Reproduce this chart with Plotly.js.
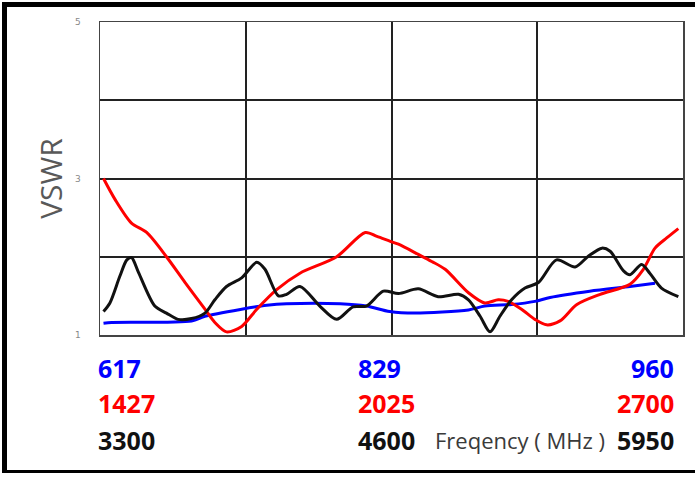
<!DOCTYPE html>
<html>
<head>
<meta charset="utf-8">
<script src="https://cdn.plot.ly/plotly-3.0.1.min.js"></script>
<style>
  html, body { margin: 0; padding: 0; background: #fff; }
  #frame { position: absolute; left: 2px; top: 2px; width: 693px; height: 471px;
           border-left: 5px solid #000; border-top: 5px solid #000; border-bottom: 3px solid #000;
           box-sizing: border-box; pointer-events: none; z-index: 10; }
  #chart { position: absolute; left: 0; top: 0; width: 695px; height: 477px; }
</style>
</head>
<body>
<div id="chart"></div>
<div id="frame"></div>
<script>
// Sweep position (% of each band's sweep) and VSWR readings
const redPos   = [0.6, 2.6, 5.4, 8.0, 11.4, 14.6, 18.0, 19.7, 21.7, 24.3, 26.9, 30.3, 34.3, 40.6, 45.5, 47.5, 49.7, 51.2, 54.6, 56.9, 59.2, 63.2, 66.0, 68.3, 70.0, 72.3, 74.6, 76.6, 78.9, 81.8, 85.8, 90.9, 93.2, 95.2, 97.2, 99.2];
const redVswr  = [3.0, 2.73, 2.43, 2.31, 2.0, 1.67, 1.33, 1.16, 1.04, 1.11, 1.33, 1.58, 1.79, 2.0, 2.31, 2.26, 2.2, 2.16, 2.03, 1.94, 1.84, 1.54, 1.41, 1.45, 1.43, 1.33, 1.2, 1.13, 1.18, 1.39, 1.52, 1.65, 1.84, 2.11, 2.24, 2.36];

const blackPos  = [0.6, 1.7, 3.4, 4.6, 5.4, 6.6, 9.4, 11.4, 13.4, 15.7, 18.0, 19.7, 21.7, 24.3, 26.9, 28.3, 30.6, 32.0, 34.3, 37.7, 40.6, 43.4, 45.7, 48.6, 51.2, 54.6, 58.0, 61.5, 63.2, 65.2, 66.9, 68.6, 70.6, 72.9, 75.2, 78.3, 81.5, 83.8, 86.1, 87.5, 89.8, 90.9, 92.9, 94.3, 96.3, 99.2];
const blackVswr = [1.3, 1.41, 1.75, 1.96, 1.99, 1.8, 1.37, 1.28, 1.2, 1.21, 1.28, 1.45, 1.62, 1.73, 1.93, 1.84, 1.5, 1.52, 1.62, 1.37, 1.2, 1.36, 1.37, 1.56, 1.53, 1.59, 1.49, 1.52, 1.45, 1.24, 1.04, 1.24, 1.45, 1.6, 1.67, 1.96, 1.87, 2.01, 2.11, 2.07, 1.82, 1.77, 1.9, 1.79, 1.6, 1.49];

const bluePos  = [0.6, 2.0, 15.7, 18.0, 24.3, 28.6, 32.0, 41.2, 45.7, 49.7, 54.0, 63.2, 66.0, 70.6, 74.6, 77.2, 84.0, 90.9, 95.2];
const blueVswr = [1.15, 1.16, 1.18, 1.24, 1.33, 1.38, 1.4, 1.4, 1.37, 1.3, 1.28, 1.32, 1.37, 1.39, 1.43, 1.48, 1.56, 1.62, 1.66];

// Band labels (MHz): start, middle, end
const blueBand  = ['617', '829', '960'];
const redBand   = ['1427', '2025', '2700'];
const blackBand = ['3300', '4600', '5950'];

const yTickVals = [1, 2, 3, 4, 5];
const yTickText = ['1', '', '3', '', '5'];

const COL_BLUE = '#0000ff', COL_RED = '#ff0000', COL_BLACK = '#111111';

function line(x, y, c) {
  return { x: x, y: y, type: 'scatter', mode: 'lines',
           line: { color: c, width: 3, shape: 'spline', smoothing: 0.8 }, hoverinfo: 'skip' };
}

const traces = [
  line(bluePos, blueVswr, COL_BLUE),
  line(redPos, redVswr, COL_RED),
  line(blackPos, blackVswr, COL_BLACK)
];

const rows = [
  { labels: blueBand,  color: COL_BLUE,  shift: -33 },
  { labels: redBand,   color: COL_RED,   shift: -68 },
  { labels: blackBand, color: COL_BLACK, shift: -105 }
];
const cols = [
  { x: 0, anchor: 'left', xshift: -4 },
  { x: 0.4425, anchor: 'left', xshift: -2 },
  { x: 0.985, anchor: 'right', xshift: 2 }
];
const annotations = [];
rows.forEach(r => {
  cols.forEach((c, i) => {
    annotations.push({
      xref: 'paper', yref: 'paper', x: c.x, y: 0, xanchor: c.anchor, yanchor: 'middle',
      xshift: c.xshift, yshift: r.shift, showarrow: false,
      text: '<b>' + r.labels[i] + '</b>',
      font: { family: 'Open Sans, sans-serif', size: 25, color: r.color }
    });
  });
});
annotations.push({
  xref: 'paper', yref: 'paper', x: 0.72, y: 0, xanchor: 'center', yanchor: 'middle',
  yshift: -105, showarrow: false, text: 'Freqency ( MHz )',
  font: { family: 'Open Sans, sans-serif', size: 22, color: '#3a3a3a' }
});

const layout = {
  width: 695, height: 477,
  margin: { l: 100, r: 12, t: 22, b: 142 },
  paper_bgcolor: '#ffffff', plot_bgcolor: '#ffffff',
  showlegend: false,
  xaxis: {
    range: [0, 100], tickvals: [0, 25, 50, 75, 100], showticklabels: false, ticks: '',
    showgrid: true, gridcolor: '#222222', gridwidth: 2, zeroline: false,
    showline: true, mirror: true, linecolor: '#444444', linewidth: 1.5, fixedrange: true
  },
  yaxis: {
    range: [1, 5], tickvals: yTickVals, ticktext: yTickText, ticks: '',
    ticklabelstandoff: 16,
    tickfont: { family: 'DejaVu Sans, sans-serif', size: 9, color: '#888888' },
    showgrid: true, gridcolor: '#222222', gridwidth: 2, zeroline: false,
    showline: true, mirror: true, linecolor: '#444444', linewidth: 1.5, fixedrange: true,
    title: { text: 'VSWR', standoff: 3, font: { family: 'Open Sans, sans-serif', size: 30, color: '#595959' } }
  },
  annotations: annotations
};

Plotly.newPlot('chart', traces, layout, { displayModeBar: false, staticPlot: true });
</script>
</body>
</html>
